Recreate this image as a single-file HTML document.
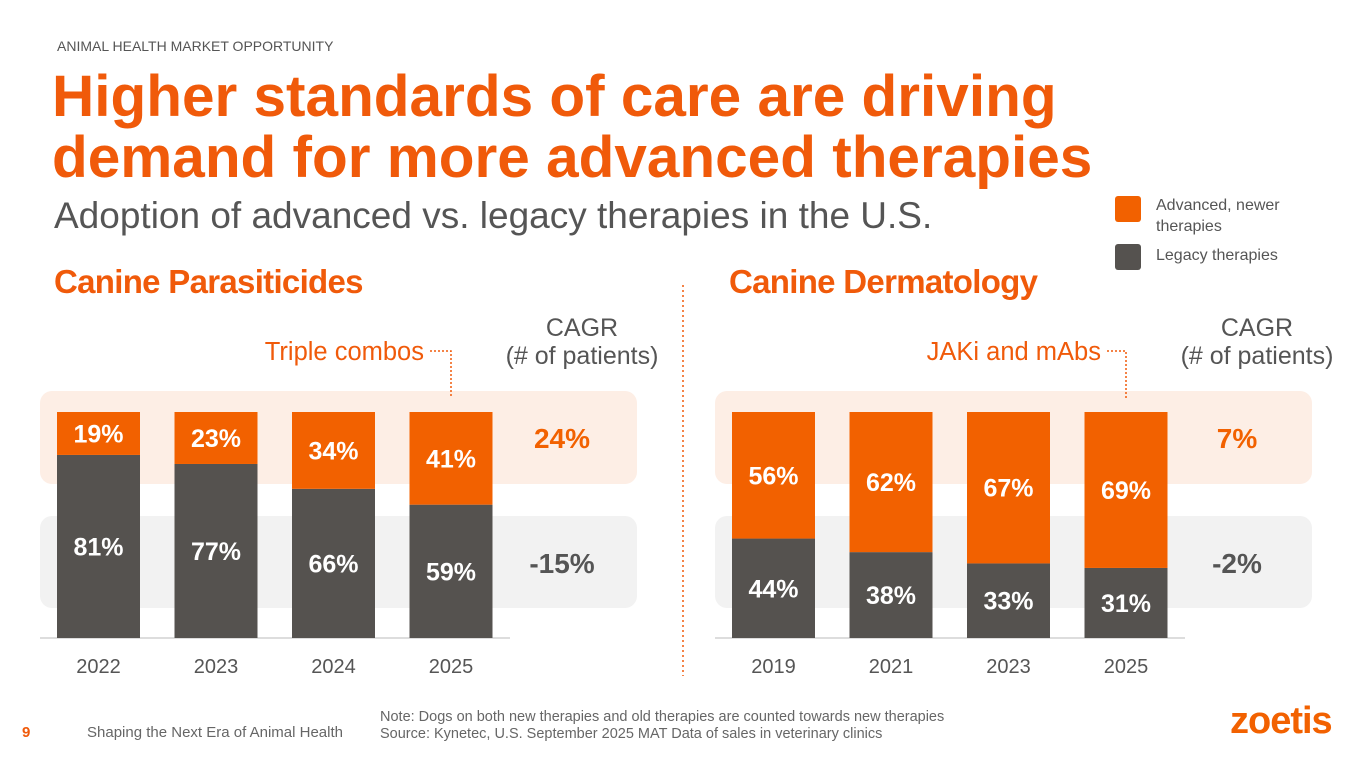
<!DOCTYPE html>
<html><head><meta charset="utf-8"><style>
body{margin:0;width:1365px;height:768px;background:#fff;font-family:"Liberation Sans",sans-serif;overflow:hidden;position:relative}
.t{position:absolute;white-space:nowrap}
</style></head><body>
<div class="t" style="left:57px;top:38px;font-size:14px;color:#555">ANIMAL HEALTH MARKET OPPORTUNITY</div>
<div class="t" style="left:52px;top:66px;font-size:58.5px;line-height:61px;font-weight:bold;color:#F05A0A">Higher standards of care are driving<br>demand for more advanced therapies</div>
<div class="t" style="left:54px;top:195px;font-size:37px;color:#555">Adoption of advanced vs. legacy therapies in the U.S.</div>
<div style="position:absolute;left:1115px;top:196px;width:26px;height:26px;background:#F26100;border-radius:3px"></div>
<div class="t" style="left:1156px;top:195px;font-size:16px;line-height:21px;color:#555">Advanced, newer<br>therapies</div>
<div style="position:absolute;left:1115px;top:244px;width:26px;height:26px;background:#55524F;border-radius:3px"></div>
<div class="t" style="left:1156px;top:247px;font-size:16px;color:#555">Legacy therapies</div>
<div class="t" style="left:22px;top:724px;font-size:15px;font-weight:bold;color:#F05A0A">9</div>
<div class="t" style="left:87px;top:724px;font-size:15px;color:#666">Shaping the Next Era of Animal Health</div>
<div class="t" style="left:380px;top:709px;font-size:14.5px;line-height:17px;color:#666">Note: Dogs on both new therapies and old therapies are counted towards new therapies<br>Source: Kynetec, U.S. September 2025 MAT Data of sales in veterinary clinics</div>
<div class="t" style="left:1230px;top:700px;font-size:38px;font-weight:bold;color:#F26100;letter-spacing:-1px">zoetis</div>
<svg id="chart" width="1365" height="768" style="position:absolute;left:0;top:0"></svg>
<script>
const leftYears=["2022","2023","2024","2025"];
const leftAdvanced=[19,23,34,41];
const leftLegacy=[81,77,66,59];
const rightYears=["2019","2021","2023","2025"];
const rightAdvanced=[56,62,67,69];
const rightLegacy=[44,38,33,31];
const cagrLeft=["24%","-15%"];
const cagrRight=["7%","-2%"];
const svg=document.getElementById('chart');
const NS='http://www.w3.org/2000/svg';
function mk(tag,attrs,txt){const e=document.createElementNS(NS,tag);for(const k in attrs)e.setAttribute(k,attrs[k]);if(txt!==undefined)e.textContent=txt;svg.appendChild(e);return e;}
const y0=638,H=226;
function yv(v){return y0-v/100*H;}
function panel(ox,title,years,adv,leg,cagr,callout,calloutX,prefix){
  let e;
  e=mk('rect',{x:ox-17,y:391,width:597,height:93,rx:12,fill:'#FDEEE5'});
  
  e=mk('rect',{x:ox-17,y:516,width:597,height:92,rx:12,fill:'#F2F2F2'});
  
  e=mk('text',{x:ox-3,y:293,'font-size':33,'font-weight':'bold',fill:'#F05A0A','letter-spacing':'-0.7'},title);
  
  e=mk('text',{x:ox+525,y:336,'font-size':25,fill:'#555','text-anchor':'middle'},'CAGR');
  
  e=mk('text',{x:ox+525,y:364,'font-size':25,fill:'#555','text-anchor':'middle'},'(# of patients)');
  
  e=mk('text',{x:ox+505,y:448,'font-size':28,'font-weight':'bold',fill:'#F26100','text-anchor':'middle'},cagr[0]);
  
  e=mk('text',{x:ox+505,y:573,'font-size':28,'font-weight':'bold',fill:'#555','text-anchor':'middle'},cagr[1]);
  
  e=mk('line',{x1:ox-17,x2:ox+453,y1:y0,y2:y0,stroke:'#BBB','stroke-width':1});
  
  years.forEach((yr,i)=>{
    const x=ox+i*117.5,w=83,cx=x+w/2;
    const yb=yv(leg[i]);
    e=mk('rect',{x:x,y:yb,width:w,height:y0-yb,fill:'#55524F'});
    
    e=mk('rect',{x:x,y:yv(leg[i]+adv[i]),width:w,height:yb-yv(leg[i]+adv[i]),fill:'#F26100'});
    
    e=mk('text',{x:cx,y:(yb+y0)/2+9,'font-size':25,'font-weight':'bold',fill:'#fff','text-anchor':'middle'},leg[i]+'%');
    
    e=mk('text',{x:cx,y:(yb+yv(leg[i]+adv[i]))/2+9,'font-size':25,'font-weight':'bold',fill:'#fff','text-anchor':'middle'},adv[i]+'%');
    
    e=mk('text',{x:cx,y:673,'font-size':20,fill:'#555','text-anchor':'middle'},yr);
    
  });
  e=mk('text',{x:calloutX,y:360,'font-size':25.5,fill:'#F05A0A','text-anchor':'end'},callout);
  
  const lx=ox+394;
  e=mk('polyline',{points:(calloutX+6)+',351 '+lx+',351 '+lx+',398',fill:'none',stroke:'#F05A0A','stroke-width':1.5,'stroke-dasharray':'2,2'});
  
}
panel(57,'Canine Parasiticides',leftYears,leftAdvanced,leftLegacy,cagrLeft,'Triple combos',424,'parasiticides');
panel(732,'Canine Dermatology',rightYears,rightAdvanced,rightLegacy,cagrRight,'JAKi and mAbs',1101,'dermatology');
let d=mk('line',{x1:683,x2:683,y1:285,y2:676,stroke:'#F05A0A','stroke-width':1.5,'stroke-dasharray':'2,3'});


</script>
</body></html>
